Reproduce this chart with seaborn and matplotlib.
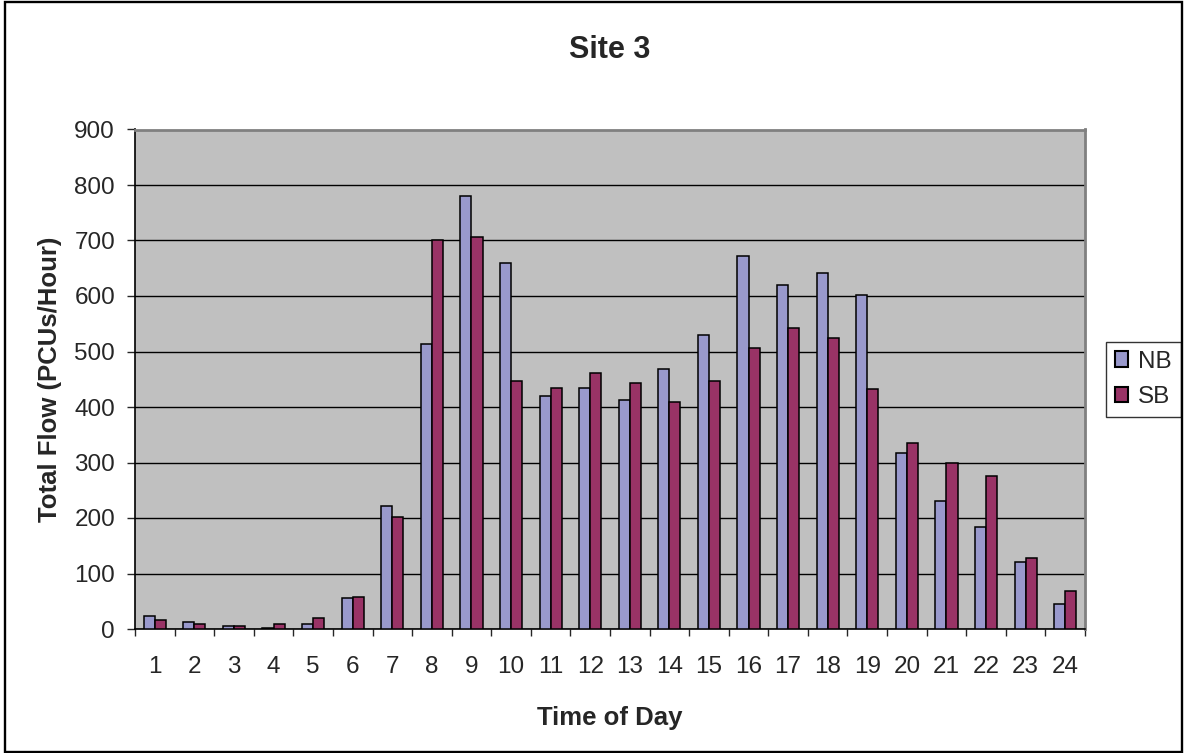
import matplotlib
matplotlib.use("Agg")
import matplotlib.pyplot as plt
import seaborn as sns
import pandas as pd
from matplotlib.patches import Rectangle

hours = [str(h) for h in range(1, 25)]
nb = [23, 13, 6, 2, 9, 55, 222, 514, 781, 659, 420, 434, 413, 469, 529, 672, 620, 641, 601, 317, 230, 184, 120, 45]
sb = [16, 9, 6, 9, 20, 58, 202, 700, 707, 447, 434, 462, 444, 409, 447, 507, 542, 524, 433, 335, 300, 275, 128, 69]
series = ["NB", "SB"]
colors = ["#9999CC", "#993366"]
y_ticks = [0, 100, 200, 300, 400, 500, 600, 700, 800, 900]

df = pd.DataFrame({
    "Hour": hours * 2,
    "Flow": nb + sb,
    "Dir": [series[0]] * len(hours) + [series[1]] * len(hours),
})

sns.set_style("white")
plt.rcParams["font.family"] = ["Liberation Sans", "DejaVu Sans"]

W, H = 1184, 753
fig = plt.figure(figsize=(W / 100, H / 100), dpi=100)
ax_l, ax_r, ax_t, ax_b = 135, 1085, 129.5, 629
ax = fig.add_axes([ax_l / W, 1 - ax_b / H, (ax_r - ax_l) / W, (ax_b - ax_t) / H])
ax.set_facecolor("#C0C0C0")

sns.barplot(data=df, x="Hour", y="Flow", hue="Dir", order=hours, hue_order=series,
            palette=colors, width=0.56, edgecolor="black", linewidth=1.1,
            saturation=1, ax=ax, zorder=3)

ax.set_ylim(0, 900)
ax.set_xlim(-0.5, len(hours) - 0.5)
ax.set_yticks(y_ticks)
ax.yaxis.grid(True, color="black", linewidth=1, zorder=0)
ax.set_axisbelow(True)
for s in ["top", "right"]:
    ax.spines[s].set_color("#808080")
    ax.spines[s].set_linewidth(2)
for s in ["left", "bottom"]:
    ax.spines[s].set_color("black")
    ax.spines[s].set_linewidth(1.2)

ax.tick_params(axis="y", direction="out", length=5.8, width=1, labelsize=17.5, left=True, pad=8.6)
ax.tick_params(axis="x", which="major", length=0, labelsize=17.5, pad=19.5)
ax.set_xticks([i + 0.5 for i in range(-1, len(hours))], minor=True)
ax.tick_params(axis="x", which="minor", direction="out", length=5, width=1, bottom=True)

ax.set_xlabel("Time of Day", fontsize=18.5, fontweight="bold", labelpad=20)
ax.set_ylabel("Total Flow (PCUs/Hour)", fontsize=18.5, fontweight="bold", labelpad=9)
ax.set_title("Site 3", fontsize=22, fontweight="bold", pad=51.5)

leg = ax.legend(loc="center left", bbox_to_anchor=(1 + 21 / (ax_r - ax_l), 0.5), frameon=True,
                fontsize=17.5, handlelength=0.55, handleheight=0.6, handletextpad=0.42,
                borderpad=0.36, labelspacing=0.55, fancybox=False, borderaxespad=0)
leg.get_frame().set_edgecolor("black")
leg.get_frame().set_linewidth(1)
leg.set_title(None)
for h in leg.legend_handles:
    h.set_linewidth(1.5)

fig.patches.append(Rectangle((4.5 / W, 1.5 / H), 1177 / W, 750 / H, transform=fig.transFigure,
                             fill=False, edgecolor="black", linewidth=1.7))

fig.savefig("out.png", dpi=100)
